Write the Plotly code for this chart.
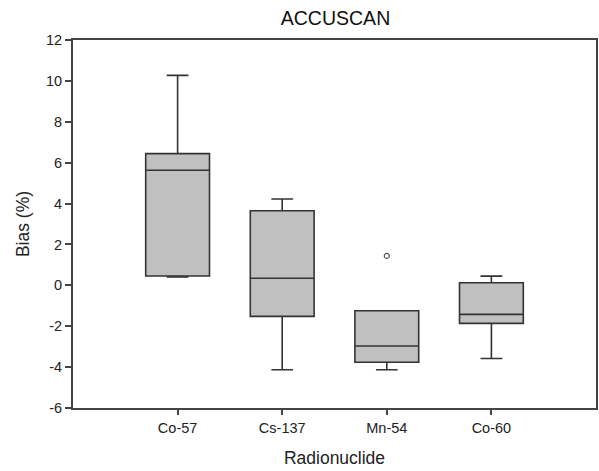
import plotly.graph_objects as go

categories = ["Co-57", "Cs-137", "Mn-54", "Co-60"]
positions = [1, 2, 3, 4]
lower_whisker = [0.41, -4.13, -4.13, -3.58]
q1 = [0.46, -1.52, -3.76, -1.86]
median = [5.63, 0.35, -2.97, -1.42]
q3 = [6.44, 3.65, -1.24, 0.13]
upper_whisker = [10.27, 4.22, -1.24, 0.45]
outlier_x = [3]
outlier_y = [1.44]

yticks = [-6, -4, -2, 0, 2, 4, 6, 8, 10, 12]
ytick_text = [str(v) for v in yticks]

fig = go.Figure()
fig.add_trace(go.Box(
    x=positions, q1=q1, median=median, q3=q3,
    lowerfence=lower_whisker, upperfence=upper_whisker,
    width=0.61, whiskerwidth=0.34,
    fillcolor="#c0c0c0",
    line=dict(color="#333333", width=1.6),
    boxpoints=False, showlegend=False, hoverinfo="skip",
))
fig.add_trace(go.Scatter(
    x=outlier_x, y=outlier_y, mode="markers",
    marker=dict(symbol="circle-open", size=5, color="#555555", line=dict(width=1.2)),
    showlegend=False, hoverinfo="skip",
))

fig.update_layout(
    width=599, height=471,
    margin=dict(l=73, r=1, t=40, b=63),
    paper_bgcolor="white", plot_bgcolor="white",
    font=dict(family="Liberation Sans, Arial, sans-serif", color="#222222", size=14),
    title=dict(text="ACCUSCAN", x=(73 + 598) / 2 / 599, xanchor="center",
               y=1 - 18 / 471, yanchor="middle", font=dict(size=19.5, color="#111111")),
)
fig.update_xaxes(
    range=[0, 5], tickvals=positions, ticktext=categories,
    showgrid=False, zeroline=False,
    showline=True, linecolor="#444444", linewidth=2, mirror=True,
    ticks="outside", ticklen=5, tickwidth=1.5, tickcolor="#444444",
    ticklabelstandoff=1,
    title=dict(text="Radionuclide", font=dict(size=17.5), standoff=16),
    tickfont=dict(size=14.5),
)
fig.update_yaxes(
    range=[-6, 12], tickvals=yticks, ticktext=ytick_text,
    showgrid=False, zeroline=False,
    showline=True, linecolor="#444444", linewidth=2, mirror=True,
    ticks="outside", ticklen=6, tickwidth=1.5, tickcolor="#444444",
    title=dict(text="Bias (%)", font=dict(size=17.5), standoff=12),
    tickfont=dict(size=14.5),
)

fig.write_html("out.html")
